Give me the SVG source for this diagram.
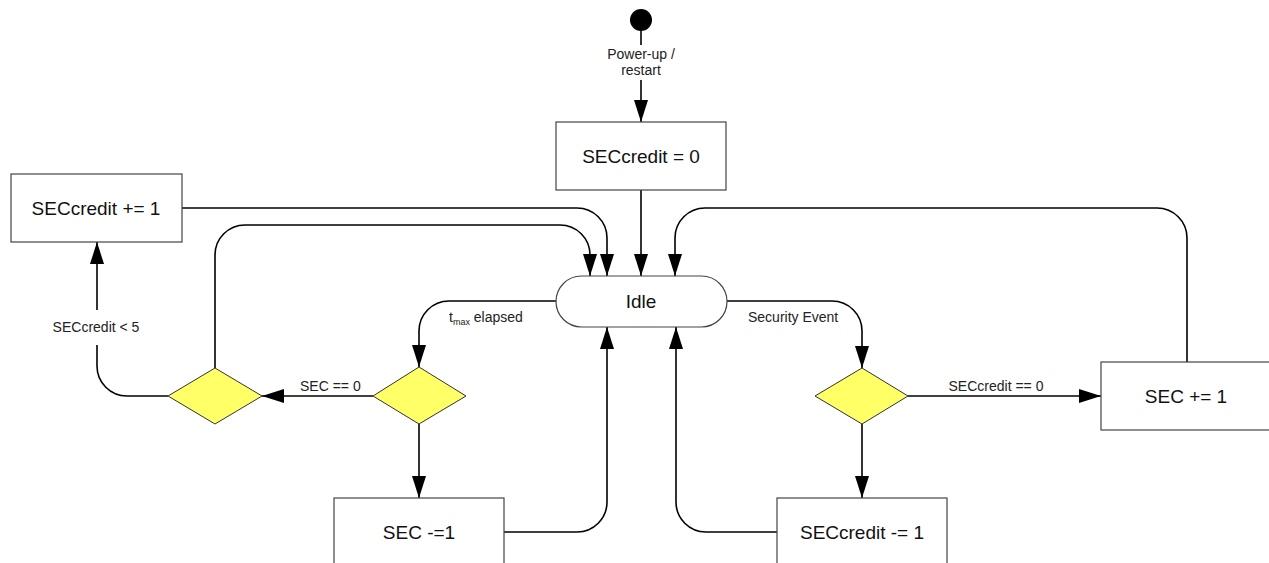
<svg xmlns="http://www.w3.org/2000/svg" width="1269" height="563" viewBox="0 0 1269 563">
<defs>
<marker id="arr" markerWidth="22" markerHeight="14" refX="22" refY="7" orient="auto" markerUnits="userSpaceOnUse">
<path d="M0,0 L22,7 L0,14 z" fill="#000"/>
</marker>
<style>
.box{fill:#fff;stroke:#444;stroke-width:1.2}
.dia{fill:#ffff66;stroke:#333;stroke-width:1}
.big{font-family:"Liberation Sans",Arial,sans-serif;font-size:19px;fill:#111;text-anchor:middle}
.lbl{font-family:"Liberation Sans",Arial,sans-serif;font-size:14px;fill:#222}
.c{fill:none;stroke:#000;stroke-width:1.6}
.ca{fill:none;stroke:#000;stroke-width:1.6;marker-end:url(#arr)}
</style>
</defs>
<rect width="1269" height="563" fill="#fff"/>
<g id="connectors">
<path class="c" d="M641,31 V45"/>
<path class="ca" d="M641,80 V122"/>
<path class="ca" d="M641,190 V276"/>
<path class="ca" d="M182,208 H577 A30,30 0 0 1 607,238 V276"/>
<path class="ca" d="M215,368 V255 A30,30 0 0 1 245,225 H560 A30,30 0 0 1 590,255 V276"/>
<path class="ca" d="M1187,362 V238 A30,30 0 0 0 1157,208 H705 A30,30 0 0 0 675,238 V276"/>
<path class="ca" d="M727,301 H832 A30,30 0 0 1 862,331 V368"/>
<path class="ca" d="M556,301 H449 A30,30 0 0 0 419,331 V367"/>
<path class="ca" d="M373,396 H262"/>
<path class="c" d="M168,396 H127 A30,30 0 0 1 97,366 V345"/>
<path class="ca" d="M97,310 V242"/>
<path class="ca" d="M419,424 V498"/>
<path class="ca" d="M504,532 H577 A30,30 0 0 0 607,502 V327"/>
<path class="ca" d="M908,396 H1101"/>
<path class="ca" d="M862,424 V498"/>
<path class="ca" d="M777,532 H706 A30,30 0 0 1 676,502 V327"/>
<text class="lbl" x="641" y="59" text-anchor="middle">Power-up /</text>
<text class="lbl" x="641" y="75" text-anchor="middle">restart</text>
<text class="lbl" x="748" y="322">Security Event</text>
<text class="lbl" x="449" y="322">t<tspan font-size="9" dy="3">max</tspan><tspan dy="-3"> elapsed</tspan></text>
<text class="lbl" x="996" y="391" text-anchor="middle">SECcredit == 0</text>
<text class="lbl" x="300" y="391">SEC == 0</text>
<text class="lbl" x="96" y="332" text-anchor="middle">SECcredit &lt; 5</text>
</g>
<g id="start"><circle cx="641" cy="20" r="11" fill="#000"/></g>
<g id="init"><rect class="box" x="556" y="122" width="170" height="68"/><text class="big" x="641" y="163">SECcredit = 0</text></g>
<g id="idle"><rect class="box" x="556" y="276" width="171" height="51" rx="25.5" ry="25.5"/><text class="big" x="641" y="308">Idle</text></g>
<g id="creditInc"><rect class="box" x="11" y="174" width="171" height="68"/><text class="big" x="96" y="215">SECcredit += 1</text></g>
<g id="decLeft"><polygon class="dia" points="215,368 262,396 215,424 168,396"/></g>
<g id="decMid"><polygon class="dia" points="419,367 466,396 419,424 373,396"/></g>
<g id="decRight"><polygon class="dia" points="862,368 908,396 862,424 815,396"/></g>
<g id="secDec"><rect class="box" x="334" y="498" width="170" height="70"/><text class="big" x="419" y="539">SEC -=1</text></g>
<g id="creditDec"><rect class="box" x="777" y="498" width="170" height="70"/><text class="big" x="862" y="539">SECcredit -= 1</text></g>
<g id="secInc"><rect class="box" x="1101" y="362" width="171" height="68"/><text class="big" x="1186" y="403">SEC += 1</text></g>
</svg>
